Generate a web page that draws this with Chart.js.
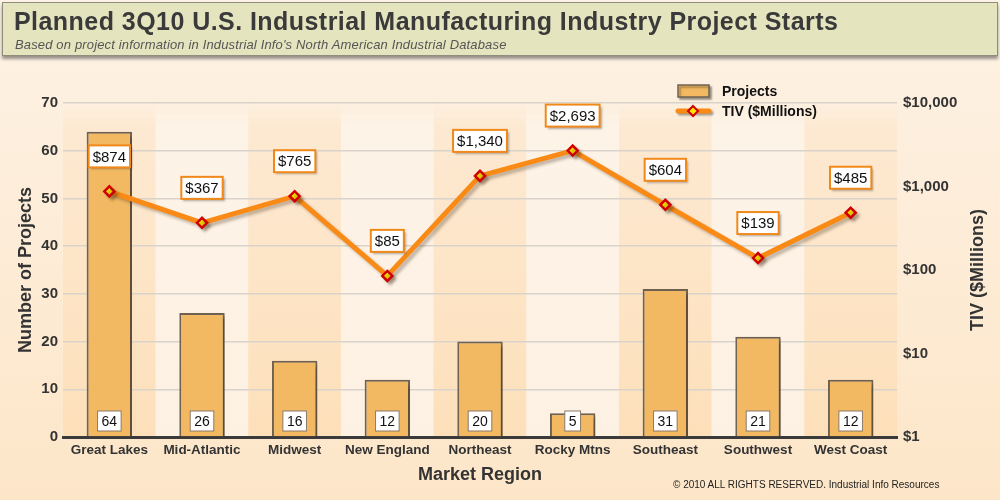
<!DOCTYPE html>
<html>
<head>
<meta charset="utf-8">
<script src="https://cdn.jsdelivr.net/npm/chart.js@4.4.0/dist/chart.umd.min.js"></script>
<style>
  body { margin: 0; width: 1000px; height: 500px; overflow: hidden; position: relative;
         background: linear-gradient(#fdf2e5, #fde6c8); font-family: "Liberation Sans", Arial, sans-serif; }
  #head { position: absolute; left: 2px; top: 2px; width: 994px; height: 52px; background: #e4e5bf;
          border: 1px solid #8e8e7e; box-shadow: 0 3px 3px rgba(0,0,0,0.4); }
  #head h1 { margin: 0; position: absolute; left: 11px; top: 4px; font-size: 25px; letter-spacing: 0.45px;
             font-weight: bold; color: #3a3a3a; white-space: nowrap; }
  #head p { margin: 0; position: absolute; left: 12px; top: 34px; font-size: 13px; letter-spacing: 0.15px;
            font-style: italic; color: #555; white-space: nowrap; }
  #copy { position: absolute; left: 673px; top: 479px; font-size: 10px; color: #222; }
  canvas { position: absolute; left: 0; top: 0; }
</style>
</head>
<body>
<canvas id="chart" width="1000" height="500"></canvas>
<div id="head">
  <h1>Planned 3Q10 U.S. Industrial Manufacturing Industry Project Starts</h1>
  <p>Based on project information in Industrial Info's North American Industrial Database</p>
</div>
<div id="copy">© 2010 ALL RIGHTS RESERVED. Industrial Info Resources</div>
<script>
// data
const regions = ["Great Lakes", "Mid-Atlantic", "Midwest", "New England", "Northeast", "Rocky Mtns", "Southeast", "Southwest", "West Coast"];
const projects = [64, 26, 16, 12, 20, 5, 31, 21, 12];
const tiv = [874, 367, 765, 85, 1340, 2693, 604, 139, 485];
const projectTicks = [0, 10, 20, 30, 40, 50, 60, 70];
const tivTicks = [1, 10, 100, 1000, 10000];

const money = v => "$" + Number(v).toLocaleString("en-US");

function labelBox(ctx, text, cx, cy, h, pad, border, bw, font, shadow) {
  ctx.save();
  ctx.font = font;
  const w = ctx.measureText(text).width + pad * 2;
  if (shadow) {
    ctx.shadowColor = "rgba(0,0,0,0.3)";
    ctx.shadowOffsetX = 2; ctx.shadowOffsetY = 2; ctx.shadowBlur = 2;
  }
  ctx.fillStyle = "#fff";
  ctx.fillRect(cx - w / 2, cy - h / 2, w, h);
  ctx.shadowColor = "transparent";
  ctx.strokeStyle = border; ctx.lineWidth = bw;
  ctx.strokeRect(cx - w / 2, cy - h / 2, w, h);
  ctx.fillStyle = "#111";
  ctx.textAlign = "center"; ctx.textBaseline = "middle";
  ctx.fillText(text, cx, cy + 1);
  ctx.restore();
}

const bands = {
  id: "bands",
  beforeDraw(chart) {
    const { ctx, chartArea: a, scales: { x } } = chart;
    const bw = a.width / regions.length;
    regions.forEach((r, i) => {
      const cx = x.getPixelForValue(i);
      const g = ctx.createLinearGradient(0, a.top, 0, a.bottom);
      if (i % 2 === 0) { g.addColorStop(0, "rgba(253,236,214,0)"); g.addColorStop(0.07, "#fde9d2"); g.addColorStop(1, "#fde0ba"); }
      else { g.addColorStop(0, "rgba(253,243,231,0)"); g.addColorStop(0.07, "#fdf3e7"); g.addColorStop(1, "#fdf1e3"); }
      ctx.fillStyle = g;
      ctx.fillRect(cx - bw / 2, a.top, bw, a.bottom - a.top);
    });
  }
};

const shadows = {
  id: "shadows",
  beforeDatasetDraw(chart, args) {
    const ctx = chart.ctx;
    ctx.save();
    ctx.shadowColor = args.meta.type === "bar" ? "rgba(60,40,20,0.45)" : "rgba(60,40,20,0.3)";
    ctx.shadowOffsetX = 3; ctx.shadowOffsetY = 3; ctx.shadowBlur = 3;
  },
  afterDatasetDraw(chart) { chart.ctx.restore(); }
};

const valueLabels = {
  id: "valueLabels",
  afterDatasetsDraw(chart) {
    const ctx = chart.ctx;
    chart.data.datasets.forEach((ds, di) => {
      const meta = chart.getDatasetMeta(di);
      meta.data.forEach((el, i) => {
        if (meta.type === "bar") {
          labelBox(ctx, String(ds.data[i]), el.x, chart.chartArea.bottom - 16, 20, 4, "#8a7b6b", 1, "14px 'Liberation Sans', Arial", false);
        } else {
          labelBox(ctx, money(ds.data[i]), el.x, el.y - 35, 22, 4, "#f0891a", 2, "15px 'Liberation Sans', Arial", true);
        }
      });
    });
  }
};

const extras = {
  id: "extras",
  afterDraw(chart) {
    const ctx = chart.ctx;
    const [lineDs, barDs] = chart.data.datasets;
    ctx.save();
    // legend
    ctx.shadowColor = "rgba(0,0,0,0.35)"; ctx.shadowOffsetX = 2; ctx.shadowOffsetY = 2; ctx.shadowBlur = 2;
    ctx.fillStyle = barDs.backgroundColor;
    ctx.fillRect(678, 85, 31, 12);
    ctx.strokeStyle = barDs.borderColor; ctx.lineWidth = 1.5;
    ctx.strokeRect(678, 85, 31, 12);
    ctx.strokeStyle = lineDs.borderColor; ctx.lineWidth = 5; ctx.lineCap = "round";
    ctx.beginPath(); ctx.moveTo(678, 111); ctx.lineTo(709, 111); ctx.stroke();
    ctx.shadowColor = "transparent";
    ctx.beginPath();
    ctx.moveTo(693, 106); ctx.lineTo(698, 111); ctx.lineTo(693, 116); ctx.lineTo(688, 111); ctx.closePath();
    ctx.fillStyle = lineDs.pointBackgroundColor; ctx.fill();
    ctx.strokeStyle = lineDs.pointBorderColor; ctx.lineWidth = 2; ctx.stroke();
    ctx.fillStyle = "#111";
    ctx.font = "bold 14px 'Liberation Sans', Arial";
    ctx.textBaseline = "middle";
    ctx.fillText(barDs.label, 722, 92);
    ctx.fillText(lineDs.label, 722, 112);
    // right axis title, reading bottom to top
    ctx.translate(978, 270);
    ctx.rotate(-Math.PI / 2);
    ctx.textAlign = "center";
    ctx.fillStyle = "#333";
    ctx.font = "bold 18px 'Liberation Sans', Arial";
    ctx.fillText("TIV ($Millions)", 0, 0);
    ctx.restore();
  }
};

const tickFont = { family: "'Liberation Sans', Arial", size: 15, weight: "bold" };
const titleFont = { family: "'Liberation Sans', Arial", size: 18, weight: "bold" };

new Chart(document.getElementById("chart"), {
  data: {
    labels: regions,
    datasets: [
      {
        type: "line", label: "TIV ($Millions)", data: tiv, yAxisID: "y1", order: 0,
        borderColor: "#f98a16", borderWidth: 5, tension: 0,
        pointStyle: "rectRot", pointRadius: 5, pointBorderWidth: 2.5,
        pointBorderColor: "#d10000", pointBackgroundColor: "#ffea00"
      },
      {
        type: "bar", label: "Projects", data: projects, yAxisID: "y", order: 1,
        backgroundColor: "#f2b962", borderColor: "#6f6151", borderWidth: 2,
        categoryPercentage: 1, barPercentage: 0.49
      }
    ]
  },
  options: {
    responsive: false,
    animation: false,
    devicePixelRatio: 1,
    layout: { padding: { top: 103 } },
    plugins: { legend: { display: false }, tooltip: { enabled: false } },
    scales: {
      x: {
        grid: { display: false, drawTicks: false },
        border: { color: "#3a3a3a", width: 3 },
        ticks: { font: { ...tickFont, size: 13.5 }, color: "#333", padding: 5, maxRotation: 0, autoSkip: false },
        title: { display: true, text: "Market Region", font: titleFont, color: "#333", padding: { top: 0, bottom: 14 } },
        afterFit(s) { s.height = 63; }
      },
      y: {
        position: "left", min: 0, max: 70,
        afterBuildTicks(s) { s.ticks = projectTicks.map(v => ({ value: v })); },
        grid: { color: "#d9d3cb", lineWidth: 1.5, drawTicks: false },
        border: { display: false },
        ticks: { font: tickFont, color: "#333", padding: 5 },
        title: { display: true, text: "Number of Projects", font: titleFont, color: "#333", padding: { top: 15, bottom: 0 } },
        afterFit(s) { s.width = 63; }
      },
      y1: {
        type: "logarithmic", position: "right", min: 1, max: 10000,
        afterBuildTicks(s) { s.ticks = tivTicks.map(v => ({ value: v })); },
        grid: { display: false, drawTicks: false },
        border: { display: false },
        ticks: { font: tickFont, color: "#333", padding: 6, callback: v => money(v) },
        afterFit(s) { s.width = 103; }
      }
    }
  },
  plugins: [bands, shadows, valueLabels, extras]
});
</script>
</body>
</html>
